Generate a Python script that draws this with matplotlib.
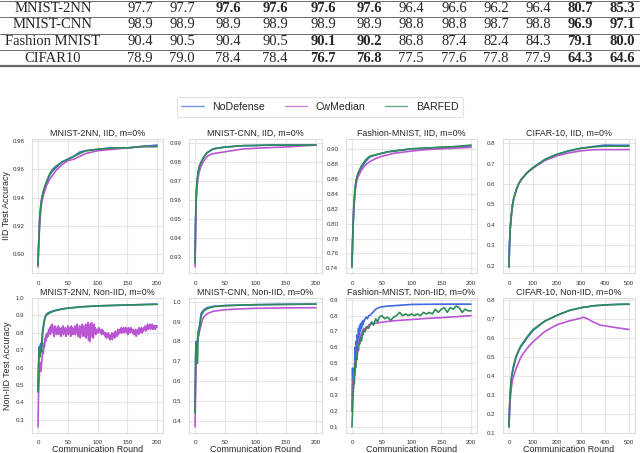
import matplotlib
matplotlib.use("Agg")
import matplotlib.pyplot as plt
import seaborn as sns
from matplotlib.lines import Line2D

sns.set_style("whitegrid")
plt.rcParams['font.family'] = ['Liberation Sans', 'DejaVu Sans']

# ---- table at the top ----
table_names = ["MNIST-2NN", "MNIST-CNN", "Fashion MNIST", "CIFAR10"]
table_values = [
    ["97.7", "97.7", "97.6", "97.6", "97.6", "97.6", "96.4", "96.6", "96.2", "96.4", "80.7", "85.3"],
    ["98.9", "98.9", "98.9", "98.9", "98.9", "98.9", "98.8", "98.8", "98.7", "98.8", "96.9", "97.1"],
    ["90.4", "90.5", "90.4", "90.5", "90.1", "90.2", "86.8", "87.4", "82.4", "84.3", "79.1", "80.0"],
    ["78.9", "79.0", "78.4", "78.4", "76.7", "76.8", "77.5", "77.6", "77.8", "77.9", "64.3", "64.6"],
]
table_bold = [[2, 3, 4, 5, 10, 11], [10, 11], [4, 5, 10, 11], [4, 5, 10, 11]]

# ---- curves ----
mn2_iid_r = [0, 1, 2, 3, 5, 7, 10, 15, 20, 25, 30, 40, 50, 60, 70, 80, 100, 125, 150, 175, 200]
mn2_iid_nodef = [0.892, 0.905, 0.915, 0.925, 0.935, 0.940, 0.945, 0.951, 0.956, 0.959, 0.961, 0.965, 0.967, 0.969, 0.972, 0.973, 0.974, 0.975, 0.975, 0.976, 0.977]
mn2_iid_cw = [0.891, 0.903, 0.913, 0.922, 0.932, 0.938, 0.943, 0.949, 0.953, 0.956, 0.959, 0.963, 0.966, 0.967, 0.969, 0.971, 0.973, 0.974, 0.975, 0.976, 0.976]
mn2_iid_barfed = [0.892, 0.905, 0.916, 0.926, 0.936, 0.941, 0.946, 0.952, 0.957, 0.960, 0.962, 0.965, 0.967, 0.969, 0.971, 0.973, 0.974, 0.975, 0.975, 0.976, 0.976]

cnn_iid_r = mn2_iid_r
cnn_iid_nodef = [0.927, 0.950, 0.962, 0.968, 0.974, 0.977, 0.980, 0.983, 0.985, 0.986, 0.987, 0.9875, 0.988, 0.9882, 0.9885, 0.9887, 0.9888, 0.989, 0.989, 0.989, 0.989]
cnn_iid_cw = [0.925, 0.948, 0.960, 0.966, 0.972, 0.975, 0.978, 0.981, 0.983, 0.984, 0.9845, 0.985, 0.9855, 0.986, 0.9865, 0.987, 0.9873, 0.9877, 0.988, 0.9885, 0.989]
cnn_iid_barfed = [0.927, 0.951, 0.963, 0.969, 0.975, 0.978, 0.980, 0.983, 0.985, 0.986, 0.987, 0.9875, 0.988, 0.9882, 0.9885, 0.9887, 0.9888, 0.989, 0.989, 0.989, 0.989]

fm_iid_r = mn2_iid_r
fm_iid_nodef = [0.742, 0.775, 0.800, 0.820, 0.845, 0.857, 0.866, 0.874, 0.880, 0.885, 0.889, 0.892, 0.894, 0.896, 0.897, 0.898, 0.900, 0.901, 0.902, 0.903, 0.904]
fm_iid_cw = [0.742, 0.772, 0.797, 0.815, 0.840, 0.853, 0.862, 0.870, 0.876, 0.880, 0.883, 0.887, 0.890, 0.892, 0.894, 0.895, 0.897, 0.899, 0.900, 0.901, 0.902]
fm_iid_barfed = [0.742, 0.776, 0.801, 0.822, 0.847, 0.858, 0.867, 0.876, 0.882, 0.887, 0.890, 0.892, 0.894, 0.896, 0.897, 0.898, 0.900, 0.901, 0.902, 0.903, 0.905]

cf_iid_r = [0, 2, 5, 10, 15, 20, 30, 40, 50, 75, 100, 150, 200, 250, 300, 350, 400, 450, 500]
cf_iid_nodef = [0.195, 0.30, 0.38, 0.45, 0.50, 0.53, 0.57, 0.60, 0.62, 0.655, 0.68, 0.72, 0.745, 0.762, 0.775, 0.783, 0.790, 0.789, 0.789]
cf_iid_cw = [0.195, 0.30, 0.38, 0.45, 0.50, 0.53, 0.57, 0.60, 0.62, 0.653, 0.677, 0.715, 0.738, 0.752, 0.762, 0.767, 0.768, 0.768, 0.768]
cf_iid_barfed = [0.195, 0.30, 0.38, 0.45, 0.50, 0.53, 0.57, 0.60, 0.62, 0.655, 0.68, 0.72, 0.745, 0.762, 0.774, 0.781, 0.785, 0.785, 0.785]

mn2_non_r = [0, 1, 2, 3, 4, 5, 6, 7, 8, 10, 12, 15, 20, 25, 30, 40, 50, 75, 100, 150, 200]
mn2_non_nodef = [0.47, 0.62, 0.72, 0.70, 0.73, 0.74, 0.72, 0.78, 0.82, 0.86, 0.89, 0.91, 0.92, 0.925, 0.93, 0.937, 0.942, 0.950, 0.955, 0.960, 0.965]
mn2_non_barfed = [0.46, 0.60, 0.70, 0.66, 0.70, 0.72, 0.69, 0.74, 0.80, 0.85, 0.89, 0.905, 0.915, 0.923, 0.928, 0.936, 0.942, 0.950, 0.955, 0.960, 0.964]
# CwMedian, one value per round 0..200
mn2_non_cw = [
    0.26, 0.45, 0.52, 0.60, 0.63, 0.58, 0.62, 0.66, 0.70, 0.68, 0.74, 0.72, 0.77, 0.75, 0.79, 0.77, 0.80, 0.78, 0.82, 0.80,
    0.83, 0.79, 0.84, 0.81, 0.85, 0.80, 0.83, 0.78, 0.84, 0.81, 0.83, 0.79, 0.82, 0.80, 0.84, 0.79, 0.83, 0.81, 0.82, 0.78,
    0.83, 0.80, 0.84, 0.79, 0.82, 0.81, 0.83, 0.78, 0.82, 0.80, 0.84, 0.79, 0.83, 0.80, 0.82, 0.78, 0.84, 0.81, 0.83, 0.79,
    0.82, 0.80, 0.84, 0.79, 0.83, 0.81, 0.85, 0.78, 0.82, 0.80, 0.84, 0.77, 0.83, 0.80, 0.85, 0.78, 0.84, 0.79, 0.83, 0.78,
    0.85, 0.77, 0.84, 0.79, 0.86, 0.76, 0.83, 0.75, 0.85, 0.78, 0.86, 0.79, 0.84, 0.77, 0.85, 0.80, 0.83, 0.79, 0.82, 0.80,
    0.82, 0.80, 0.83, 0.81, 0.82, 0.80, 0.81, 0.79, 0.82, 0.80, 0.81, 0.79, 0.80, 0.78, 0.80, 0.77, 0.79, 0.78, 0.80, 0.77,
    0.79, 0.76, 0.78, 0.77, 0.80, 0.76, 0.79, 0.78, 0.80, 0.77, 0.81, 0.79, 0.80, 0.78, 0.82, 0.79, 0.81, 0.80, 0.82, 0.80,
    0.83, 0.80, 0.82, 0.81, 0.83, 0.80, 0.82, 0.81, 0.83, 0.80, 0.82, 0.79, 0.83, 0.81, 0.82, 0.80, 0.83, 0.81, 0.82, 0.80,
    0.82, 0.79, 0.81, 0.80, 0.82, 0.78, 0.81, 0.80, 0.82, 0.79, 0.83, 0.80, 0.82, 0.81, 0.83, 0.80, 0.82, 0.81, 0.83, 0.82,
    0.84, 0.81, 0.83, 0.82, 0.85, 0.82, 0.84, 0.83, 0.85, 0.82, 0.84, 0.83, 0.85, 0.82, 0.84, 0.83, 0.84, 0.82, 0.84, 0.83,
    0.84,
]
mn2_non_cw_r = list(range(len(mn2_non_cw)))

cnn_non_r = [0, 1, 2, 3, 4, 5, 6, 8, 10, 12, 15, 20, 30, 50, 75, 100, 150, 200]
cnn_non_nodef = [0.45, 0.74, 0.80, 0.76, 0.80, 0.85, 0.86, 0.89, 0.94, 0.95, 0.96, 0.970, 0.977, 0.981, 0.983, 0.985, 0.987, 0.988]
cnn_non_barfed = [0.44, 0.72, 0.79, 0.70, 0.69, 0.82, 0.84, 0.88, 0.93, 0.94, 0.955, 0.965, 0.975, 0.980, 0.983, 0.985, 0.987, 0.988]
cnn_non_cw = [0.37, 0.58, 0.72, 0.78, 0.80, 0.82, 0.83, 0.86, 0.88, 0.91, 0.925, 0.94, 0.952, 0.960, 0.964, 0.967, 0.969, 0.970]

fm_non_r = list(range(21)) + [22, 24, 26, 28, 30, 35, 40, 45, 50, 60, 70, 80, 100, 125, 150, 175, 200]
fm_non_nodef = [0.20, 0.47, 0.30, 0.46, 0.42, 0.60, 0.55, 0.64, 0.58, 0.68, 0.62, 0.72, 0.66, 0.74, 0.70, 0.75, 0.72, 0.76, 0.74, 0.77, 0.76,
                0.78, 0.79, 0.78, 0.80, 0.80, 0.82, 0.84, 0.85, 0.855, 0.86, 0.862, 0.865, 0.87, 0.871, 0.872, 0.872, 0.872]
fm_non_cw = [0.20, 0.35, 0.40, 0.38, 0.45, 0.43, 0.52, 0.48, 0.57, 0.55, 0.62, 0.58, 0.65, 0.62, 0.68, 0.64, 0.69, 0.67, 0.71, 0.68, 0.72,
             0.70, 0.73, 0.72, 0.74, 0.745, 0.748, 0.752, 0.755, 0.758, 0.763, 0.767, 0.770, 0.775, 0.782, 0.787, 0.793, 0.80]
fm_non_barfed_r = [0, 2, 3, 4, 5, 6, 7, 8, 9, 10, 12, 14, 16, 18, 20, 22, 25, 28, 30, 33, 36, 40, 43, 46, 50, 55, 60, 65, 70, 75, 80,
                   85, 90, 95, 100, 105, 110, 115, 120, 125, 130, 135, 140, 145, 150, 155, 160, 165, 170, 175, 180, 185, 190, 195, 200]
fm_non_barfed = [0.10, 0.30, 0.40, 0.37, 0.50, 0.47, 0.55, 0.52, 0.58, 0.60, 0.62, 0.66, 0.64, 0.69, 0.71, 0.70, 0.73, 0.72, 0.74,
                 0.76, 0.74, 0.78, 0.76, 0.79, 0.80, 0.78, 0.79, 0.77, 0.79, 0.80, 0.82, 0.80, 0.81, 0.80, 0.81, 0.80, 0.81, 0.80,
                 0.82, 0.81, 0.82, 0.81, 0.84, 0.82, 0.84, 0.85, 0.82, 0.85, 0.84, 0.86, 0.85, 0.82, 0.84, 0.83, 0.83]

cf_non_r = [0, 2, 5, 10, 15, 20, 30, 40, 50, 75, 100, 150, 200, 250, 300, 310, 330, 350, 380, 420, 460, 500]
cf_non_nodef = [0.13, 0.22, 0.30, 0.38, 0.42, 0.45, 0.50, 0.53, 0.555, 0.60, 0.64, 0.69, 0.72, 0.745, 0.76, 0.762, 0.765, 0.77, 0.773, 0.776, 0.778, 0.778]
cf_non_barfed = [0.13, 0.23, 0.31, 0.39, 0.43, 0.46, 0.505, 0.535, 0.56, 0.605, 0.645, 0.69, 0.72, 0.745, 0.76, 0.762, 0.766, 0.77, 0.773, 0.776, 0.778, 0.779]
cf_non_cw = [0.13, 0.20, 0.27, 0.34, 0.38, 0.40, 0.44, 0.47, 0.50, 0.545, 0.58, 0.635, 0.67, 0.69, 0.705, 0.71, 0.70, 0.685, 0.668, 0.66, 0.652, 0.645]

c_nodef = "#4169E1"
c_cw = "#BA55D3"
c_barfed = "#2E8B57"

panels = [
    ("MNIST-2NN, IID, m=0%", (mn2_iid_r, mn2_iid_nodef), (mn2_iid_r, mn2_iid_cw), (mn2_iid_r, mn2_iid_barfed), [0.90, 0.92, 0.94, 0.96, 0.98], "{:.2f}", [0, 50, 100, 150, 200]),
    ("MNIST-CNN, IID, m=0%", (cnn_iid_r, cnn_iid_nodef), (cnn_iid_r, cnn_iid_cw), (cnn_iid_r, cnn_iid_barfed), [0.93, 0.94, 0.95, 0.96, 0.97, 0.98, 0.99], "{:.2f}", [0, 50, 100, 150, 200]),
    ("Fashion-MNIST, IID, m=0%", (fm_iid_r, fm_iid_nodef), (fm_iid_r, fm_iid_cw), (fm_iid_r, fm_iid_barfed), [0.74, 0.76, 0.78, 0.80, 0.82, 0.84, 0.86, 0.88, 0.90], "{:.2f}", [0, 50, 100, 150, 200]),
    ("CIFAR-10, IID, m=0%", (cf_iid_r, cf_iid_nodef), (cf_iid_r, cf_iid_cw), (cf_iid_r, cf_iid_barfed), [0.2, 0.3, 0.4, 0.5, 0.6, 0.7, 0.8], "{:.1f}", [0, 100, 200, 300, 400, 500]),
    ("MNIST-2NN, Non-IID, m=0%", (mn2_non_r, mn2_non_nodef), (mn2_non_cw_r, mn2_non_cw), (mn2_non_r, mn2_non_barfed), [0.3, 0.4, 0.5, 0.6, 0.7, 0.8, 0.9, 1.0], "{:.1f}", [0, 50, 100, 150, 200]),
    ("MNIST-CNN, Non-IID, m=0%", (cnn_non_r, cnn_non_nodef), (cnn_non_r, cnn_non_cw), (cnn_non_r, cnn_non_barfed), [0.4, 0.5, 0.6, 0.7, 0.8, 0.9, 1.0], "{:.1f}", [0, 50, 100, 150, 200]),
    ("Fashion-MNIST, Non-IID, m=0%", (fm_non_r, fm_non_nodef), (fm_non_r, fm_non_cw), (fm_non_barfed_r, fm_non_barfed), [0.1, 0.2, 0.3, 0.4, 0.5, 0.6, 0.7, 0.8, 0.9], "{:.1f}", [0, 50, 100, 150, 200]),
    ("CIFAR-10, Non-IID, m=0%", (cf_non_r, cf_non_nodef), (cf_non_r, cf_non_cw), (cf_non_r, cf_non_barfed), [0.1, 0.2, 0.3, 0.4, 0.5, 0.6, 0.7, 0.8], "{:.1f}", [0, 100, 200, 300, 400, 500]),
]

W, H = 640, 453
fig = plt.figure(figsize=(6.4, 4.53), dpi=100)

# table drawn in figure pixel coords
col_x = [140, 182, 228, 275, 323, 369, 411, 454, 496, 538, 580, 622]
row_y = [8.5, 25, 41.5, 58]
for y in [0.8, 17, 33.5, 50]:
    fig.add_artist(Line2D([0, 1], [1 - y / H, 1 - y / H], color="#555555", lw=0.6, transform=fig.transFigure))
fig.add_artist(Line2D([0, 1], [1 - 65.5 / H, 1 - 65.5 / H], color="#666666", lw=1.6, transform=fig.transFigure))
for i, name in enumerate(table_names):
    fy = 1 - row_y[i] / H
    fig.text(53 / W, fy, name, ha="center", va="center", fontsize=10.5, family="Liberation Serif")
    for j, v in enumerate(table_values[i]):
        fig.text(col_x[j] / W, fy, v, ha="center", va="center", fontsize=10.5, family="Liberation Serif",
                 fontweight="bold" if j in table_bold[i] else "normal")

lefts = [32, 189, 346, 503]
widths = [131, 133, 131, 132]
tops = [139, 298]
heights = [134, 135]

for k, (title, nd, cw, bf, yt, fmt, xt) in enumerate(panels):
    row, col = divmod(k, 4)
    ax = fig.add_axes([lefts[col] / W, 1 - (tops[row] + heights[row]) / H, widths[col] / W, heights[row] / H])
    ax.plot(nd[0], nd[1], color=c_nodef, lw=1.2, label="NoDefense")
    ax.plot(cw[0], cw[1], color=c_cw, lw=1.2, label="CwMedian")
    ax.plot(bf[0], bf[1], color=c_barfed, lw=1.2, label="BARFED")
    ax.set_title(title, fontsize=6.4, pad=2.5)
    ax.set_yticks(yt)
    ax.set_yticklabels([fmt.format(t) for t in yt])
    ax.set_xticks(xt)
    ax.tick_params(labelsize=4.4, pad=2, colors="#333333")
    for s in ax.spines.values():
        s.set_color("#dddddd")
        s.set_linewidth(0.8)
    ax.grid(color="#e6e6e6", lw=0.8)
    if row == 1:
        ax.tick_params(axis="x", pad=1.2)
        ax.set_xlabel("Communication Round", fontsize=6.4, labelpad=0)
    if k == 0:
        ax.set_ylabel("IID Test Accuracy", fontsize=6.4)
        ax.yaxis.set_label_coords(-0.16, 0.5)
        handles, labels = ax.get_legend_handles_labels()
    if k == 4:
        ax.set_ylabel("Non-IID Test Accuracy", fontsize=6.4)
        ax.yaxis.set_label_coords(-0.155, 0.5)

leg = fig.legend([Line2D([], [], color=c, lw=1.0, alpha=0.7) for c in (c_nodef, c_cw, c_barfed)], labels,
                 loc="center", bbox_to_anchor=(0.5, 1 - 107 / H), ncol=3, fontsize=7.6,
                 handlelength=2.1, handletextpad=0.8, columnspacing=1.9, frameon=True, borderpad=0.45)
leg.get_frame().set_edgecolor("#dddddd")
leg.get_frame().set_linewidth(0.8)

fig.savefig("out.png", dpi=100)
